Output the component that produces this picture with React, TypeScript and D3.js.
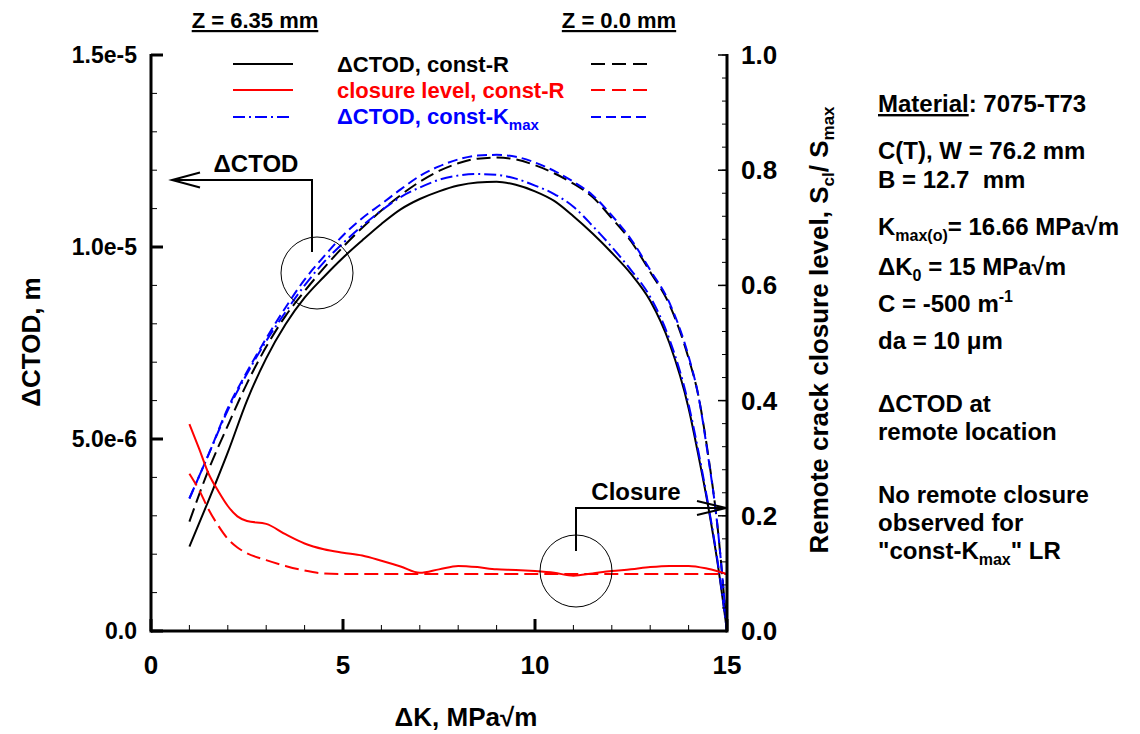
import React from 'react';
import * as d3 from 'd3';

// ---------- data ----------
const dK = [1, 1.5, 2, 2.5, 3, 3.5, 4, 4.5, 5, 5.5, 6, 6.5, 7, 7.5, 8, 8.5, 9, 9.5, 10, 10.5, 11, 11.5, 12, 12.5, 13, 13.5, 14, 14.25, 14.5, 14.75, 15];
// ΔCTOD (m)
const ctodConstR_Z635 = [2.2e-6, 3.4e-6, 4.65e-6, 6.0e-6, 7.1e-6, 7.98e-6, 8.68e-6, 9.22e-6, 9.72e-6, 10.17e-6, 10.6e-6, 10.98e-6, 11.25e-6, 11.45e-6, 11.6e-6, 11.68e-6, 11.7e-6, 11.62e-6, 11.45e-6, 11.2e-6, 10.8e-6, 10.35e-6, 9.85e-6, 9.3e-6, 8.6e-6, 7.5e-6, 5.8e-6, 4.6e-6, 3.3e-6, 1.8e-6, 0];
const ctodConstR_Z0 = [2.85e-6, 4.2e-6, 5.35e-6, 6.45e-6, 7.4e-6, 8.2e-6, 8.85e-6, 9.45e-6, 10.0e-6, 10.5e-6, 10.95e-6, 11.35e-6, 11.7e-6, 11.98e-6, 12.18e-6, 12.3e-6, 12.33e-6, 12.28e-6, 12.13e-6, 11.92e-6, 11.65e-6, 11.3e-6, 10.75e-6, 10.15e-6, 9.35e-6, 8.5e-6, 7.1e-6, 6.15e-6, 4.65e-6, 2.75e-6, 0];
const ctodConstKmax_Z635 = [3.45e-6, 4.6e-6, 5.75e-6, 6.7e-6, 7.55e-6, 8.3e-6, 9.0e-6, 9.6e-6, 10.1e-6, 10.55e-6, 10.95e-6, 11.3e-6, 11.55e-6, 11.75e-6, 11.86e-6, 11.9e-6, 11.88e-6, 11.78e-6, 11.6e-6, 11.38e-6, 11.05e-6, 10.55e-6, 10.0e-6, 9.4e-6, 8.7e-6, 7.6e-6, 5.9e-6, 4.7e-6, 3.35e-6, 1.85e-6, 0];
const ctodConstKmax_Z0 = [3.45e-6, 4.6e-6, 5.8e-6, 6.75e-6, 7.62e-6, 8.42e-6, 9.15e-6, 9.75e-6, 10.3e-6, 10.75e-6, 11.12e-6, 11.5e-6, 11.85e-6, 12.1e-6, 12.28e-6, 12.38e-6, 12.4e-6, 12.35e-6, 12.2e-6, 11.98e-6, 11.7e-6, 11.35e-6, 10.82e-6, 10.2e-6, 9.4e-6, 8.55e-6, 7.15e-6, 6.15e-6, 4.6e-6, 2.75e-6, 0];

// closure level S_cl/S_max
const dKClosure635 = [1, 1.25, 1.5, 1.75, 2, 2.25, 2.5, 3, 3.5, 4, 4.5, 5, 5.5, 6, 6.5, 7, 7.5, 8, 8.5, 9, 9.5, 10, 10.5, 11, 11.5, 12, 12.5, 13, 13.5, 14, 14.5, 15];
const closureConstR_Z635 = [0.359, 0.317, 0.273, 0.243, 0.217, 0.199, 0.191, 0.186, 0.168, 0.152, 0.142, 0.136, 0.131, 0.122, 0.112, 0.101, 0.107, 0.113, 0.111, 0.107, 0.106, 0.104, 0.101, 0.096, 0.1, 0.104, 0.107, 0.111, 0.113, 0.113, 0.108, 0.099];
const dKClosure0 = [1, 1.25, 1.5, 1.75, 2, 2.25, 2.5, 3, 3.5, 4, 4.5, 5, 6, 7, 8, 9, 10, 11, 12, 13, 14, 15];
const closureConstR_Z0 = [0.273, 0.245, 0.211, 0.183, 0.16, 0.145, 0.135, 0.123, 0.113, 0.105, 0.1, 0.099, 0.099, 0.099, 0.099, 0.099, 0.099, 0.099, 0.099, 0.099, 0.099, 0.099];

const xMajorTicks = [0, 5, 10, 15];
const xMinorTicks = d3.range(0, 16, 1);
const yLeftMajorTicks = [0, 5e-6, 1e-5, 1.5e-5];
const yLeftTickLabels = ['0.0', '5.0e-6', '1.0e-5', '1.5e-5'];
const yLeftMinorTicks = d3.range(0, 16).map((i) => i * 1e-6);
const yRightMajorTicks = [0, 0.2, 0.4, 0.6, 0.8, 1.0];
const yRightMinorTicks = d3.range(0, 26).map((i) => i * 0.04);

const FONT = "'Liberation Sans', Arial, Helvetica, sans-serif";

export default function App() {
  const x = d3.scaleLinear().domain([0, 15]).range([151, 727]);
  const yL = d3.scaleLinear().domain([0, 1.5e-5]).range([631, 55]);
  const yR = d3.scaleLinear().domain([0, 1]).range([631, 55]);

  const mk = (xs: number[], ys: number[], sc: d3.ScaleLinear<number, number>) =>
    d3
      .line<number>()
      .x((_, i) => x(xs[i]))
      .y((d) => sc(d))
      .curve(d3.curveMonotoneX)(ys) || '';

  const series = [
    { d: mk(dK, ctodConstR_Z635, yL), stroke: '#000', dash: undefined },
    { d: mk(dK, ctodConstR_Z0, yL), stroke: '#000', dash: '14,6' },
    { d: mk(dK, ctodConstKmax_Z635, yL), stroke: '#0000ff', dash: '12,4,2,4' },
    { d: mk(dK, ctodConstKmax_Z0, yL), stroke: '#0000ff', dash: '10,5' },
    { d: mk(dKClosure635, closureConstR_Z635, yR), stroke: '#ff0000', dash: undefined },
    { d: mk(dKClosure0, closureConstR_Z0, yR), stroke: '#ff0000', dash: '14,6' },
  ];

  const x0 = x(0), x1 = x(15), yb = yL(0), yt = yL(1.5e-5);

  return (
    <div style={{ position: 'absolute', left: 0, top: 0 }}>
      <svg width={1140} height={734} style={{ display: 'block', background: '#fff' }} fontFamily={FONT}>
        {/* curves */}
        {series.map((s, i) => (
          <path key={i} d={s.d} fill="none" stroke={s.stroke} strokeWidth={2} strokeDasharray={s.dash} />
        ))}

        {/* axes */}
        <g stroke="#000" strokeWidth={3} fill="none">
          <line x1={x0} y1={yt - 1} x2={x0} y2={yb + 1.5} />
          <line x1={x0} y1={yb} x2={x1} y2={yb} />
          <line x1={x1} y1={yt - 1} x2={x1} y2={yb + 1.5} />
        </g>
        <g stroke="#000">
          {xMinorTicks.map((t) => (
            <line key={'xm' + t} x1={x(t)} x2={x(t)} y1={yb} y2={yb - 6} strokeWidth={1} />
          ))}
          {xMajorTicks.map((t) => (
            <line key={'xM' + t} x1={x(t)} x2={x(t)} y1={yb} y2={yb - 12} strokeWidth={3} />
          ))}
          {yLeftMinorTicks.map((t) => (
            <line key={'lm' + t} x1={x0} x2={x0 + 6} y1={yL(t)} y2={yL(t)} strokeWidth={1} />
          ))}
          {yLeftMajorTicks.map((t) => (
            <line key={'lM' + t} x1={x0} x2={x0 + 12} y1={yL(t)} y2={yL(t)} strokeWidth={3} />
          ))}
          {yRightMinorTicks.map((t) => (
            <line key={'rm' + t} x1={x1} x2={x1 - 5} y1={yR(t)} y2={yR(t)} strokeWidth={1} />
          ))}
          {yRightMajorTicks.map((t) => (
            <line key={'rM' + t} x1={x1} x2={x1 - 9} y1={yR(t)} y2={yR(t)} strokeWidth={1.5} />
          ))}
        </g>

        {/* tick labels */}
        <g fontWeight="bold" fontSize={26} fill="#000">
          {xMajorTicks.map((t) => (
            <text key={'xl' + t} x={x(t)} y={674} textAnchor="middle">{t}</text>
          ))}
          {yRightMajorTicks.map((t) => (
            <text key={'yr' + t} x={741} y={yR(t) + 9} textAnchor="start">{t.toFixed(1)}</text>
          ))}
        </g>
        <g fontWeight="bold" fontSize={23} fill="#000">
          {yLeftMajorTicks.map((t, i) => (
            <text key={'yl' + t} x={137} y={yL(t) + 8} textAnchor="end">{yLeftTickLabels[i]}</text>
          ))}
        </g>

        {/* axis titles */}
        <g fontWeight="bold" fontSize={26} fill="#000">
          <text x={466} y={726} textAnchor="middle">ΔK, MPa√m</text>
          <text transform="translate(40,342) rotate(-90)" textAnchor="middle">ΔCTOD, m</text>
          <text transform="translate(828,330) rotate(-90)" textAnchor="middle">
            Remote crack closure level, S<tspan dy={6} fontSize={17}>cl</tspan>
            <tspan dy={-6}>/ S</tspan>
            <tspan dy={6} fontSize={17}>max</tspan>
          </text>
        </g>

        {/* legend */}
        <g fontWeight="bold" fontSize={22} fill="#000">
          <text x={255} y={28} textAnchor="middle" textDecoration="underline">Z = 6.35 mm</text>
          <text x={619} y={28} textAnchor="middle" textDecoration="underline">Z = 0.0 mm</text>
        </g>
        <g strokeWidth={2} fill="none">
          <line x1={233} x2={293} y1={64} y2={64} stroke="#000" />
          <line x1={233} x2={293} y1={90} y2={90} stroke="#ff0000" />
          <line x1={233} x2={293} y1={117} y2={117} stroke="#0000ff" strokeDasharray="12,4,2,4" />
          <line x1={591} x2={650} y1={64} y2={64} stroke="#000" strokeDasharray="14,7" />
          <line x1={591} x2={650} y1={90} y2={90} stroke="#ff0000" strokeDasharray="14,7" />
          <line x1={591} x2={650} y1={117} y2={117} stroke="#0000ff" strokeDasharray="10,5" />
        </g>
        <g fontWeight="bold" fontSize={22}>
          <text x={337} y={72} fill="#000">ΔCTOD, const-R</text>
          <text x={337} y={98} fill="#ff0000">closure level, const-R</text>
          <text x={337} y={124} fill="#0000ff">
            ΔCTOD, const-K<tspan dy={6} fontSize={15}>max</tspan>
          </text>
        </g>

        {/* annotations */}
        <g stroke="#000" fill="none">
          <path d="M312,252 L312,180 L172,180" strokeWidth={2} />
          <path d="M200,172.5 L172,180 L200,187.5" strokeWidth={2} />
          <circle cx={317} cy={273} r={36} strokeWidth={1} />
          <path d="M576,551 L576,508 L726,508" strokeWidth={2} />
          <path d="M697,501 L726,508 L697,515" strokeWidth={2} />
          <circle cx={576} cy={571} r={36} strokeWidth={1} />
        </g>
        <g fontWeight="bold" fontSize={24} fill="#000">
          <text x={256} y={172} textAnchor="middle">ΔCTOD</text>
          <text x={636} y={500} textAnchor="middle">Closure</text>
        </g>

        {/* right panel */}
        <g fontWeight="bold" fontSize={24} fill="#000">
          <text x={878} y={112}><tspan textDecoration="underline">Material</tspan>: 7075-T73</text>
          <text x={878} y={159}>C(T), W = 76.2 mm</text>
          <text x={878} y={188} style={{ whiteSpace: 'pre' }}>B = 12.7  mm</text>
          <text x={878} y={235}>K<tspan dy={6} fontSize={16}>max(o)</tspan><tspan dy={-6}>= 16.66 MPa√m</tspan></text>
          <text x={878} y={275}>ΔK<tspan dy={6} fontSize={16}>0</tspan><tspan dy={-6}> = 15 MPa√m</tspan></text>
          <text x={878} y={312}>C = -500 m<tspan dy={-10} fontSize={16}>-1</tspan></text>
          <text x={878} y={349}>da = 10 μm</text>
          <text x={878} y={412}>ΔCTOD at</text>
          <text x={878} y={440}>remote location</text>
          <text x={878} y={503}>No remote closure</text>
          <text x={878} y={531}>observed for</text>
          <text x={878} y={559}>"const-K<tspan dy={6} fontSize={16}>max</tspan><tspan dy={-6}>" LR</tspan></text>
        </g>
      </svg>
    </div>
  );
}
